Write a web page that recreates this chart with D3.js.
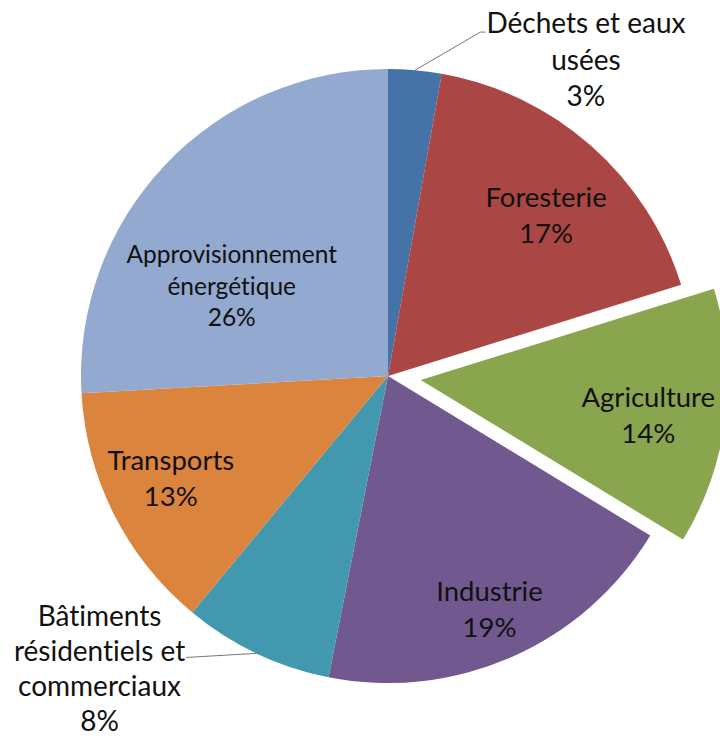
<!DOCTYPE html>
<html>
<head>
<meta charset="utf-8">
<script src="https://cdn.jsdelivr.net/npm/d3@7/dist/d3.min.js"></script>
<style>
  html, body { margin: 0; padding: 0; background: #fff; overflow: hidden; }
  svg { display: block; font-family: Lato, "Open Sans", sans-serif; font-variant-ligatures: none; }
</style>
</head>
<body>
<div id="mainArea"></div>
<script>
// sectors, clockwise from 12 o'clock
var categories = ["Déchets et eaux usées", "Foresterie", "Agriculture", "Industrie",
                  "Bâtiments résidentiels et commerciaux", "Transports", "Approvisionnement énergétique"];
var labelLines = [["Déchets et eaux", "usées"], ["Foresterie"], ["Agriculture"], ["Industrie"],
                  ["Bâtiments", "résidentiels et", "commerciaux"], ["Transports"], ["Approvisionnement", "énergétique"]];
var shares = [2.8, 17.4, 13.5, 19.4, 7.9, 13.1, 25.9];
var colors = ["#4572A7", "#AA4643", "#89A54E", "#71588F", "#4198AF", "#DB843D", "#93A9CF"];
var exploded = ["Agriculture"];

function mainInit()
{
  var width = 720, height = 738;
  var cx = 388, cy = 376, radius = 307, pull = 33;
  var lineH = 36;

  var vis = d3.select("#mainArea").append("svg")
      .attr("width", width)
      .attr("height", height);

  var pie = d3.pie().sort(null).value(function(d) { return d.v; });
  var arc = d3.arc().innerRadius(0).outerRadius(radius);
  var fmt = function(v) { return Math.round(v) + "%"; };

  var rows = categories.map(function(c, i) {
    return { name: c, v: shares[i], color: colors[i], lines: labelLines[i] };
  });
  var arcs = pie(rows);

  function mid(d) { return (d.startAngle + d.endAngle) / 2; }
  function polar(a, r) { return [Math.sin(a) * r, -Math.cos(a) * r]; }
  function shift(d) {
    return exploded.indexOf(d.data.name) >= 0 ? polar(mid(d), pull) : [0, 0];
  }

  var g = vis.append("g").attr("transform", "translate(" + cx + "," + cy + ")");

  g.selectAll("path.slice")
    .data(arcs)
    .enter()
    .append("path")
    .attr("class", "slice")
    .attr("d", arc)
    .attr("transform", function(d) { var s = shift(d); return "translate(" + s[0] + "," + s[1] + ")"; })
    .attr("fill", function(d) { return d.data.color; });

  // inside labels: radius factor and angle tweak (deg), roughly where excel put them
  var inLayout = {
    "Foresterie": [0.736, 3], "Agriculture": [0.75, 1.8], "Industrie": [0.827, 0.2],
    "Transports": [0.782, 1.6], "Approvisionnement énergétique": [0.586, -13.7]
  };
  var small = "Approvisionnement énergétique";

  arcs.forEach(function(d) {
    var L = inLayout[d.data.name];
    if (!L) return;
    var s = shift(d);
    var p = polar(mid(d) + L[1] * Math.PI / 180, radius * L[0]);
    var px = p[0] + s[0], py = p[1] + s[1];
    var lines = d.data.lines.concat([fmt(d.data.v)]);
    var isSmall = d.data.name == small;
    var lh = isSmall ? 31.5 : lineH;
    var t = g.append("text")
      .attr("text-anchor", "middle")
      .attr("font-size", isSmall ? 24.5 : 27.5)
      .attr("fill", "#111");
    lines.forEach(function(l, k) {
      t.append("tspan")
        .attr("x", px)
        .attr("y", py - (lines.length - 1) * lh / 2 + (isSmall ? 8 : 10) + k * lh)
        .text(l);
    });
  });

  // outside labels with leader lines
  var outLayout = {
    "Déchets et eaux usées": { shift: 10, rf: 1.16, line: 0, side: "right", dy: 1, lh: 36.5 },
    "Bâtiments résidentiels et commerciaux": { shift: 10, rf: 1.124, line: 1, side: "left", dy: 4, lh: 35 }
  };

  arcs.forEach(function(d) {
    var L = outLayout[d.data.name];
    if (!L) return;
    var a = mid(d);
    var p0 = polar(a, radius);
    var p1 = polar(a + L.shift * Math.PI / 180, radius * L.rf);
    var right = L.side == "right";
    var p2 = [p1[0] + (right ? 5 : -2), p1[1]];
    g.append("polyline")
      .attr("points", [p0, p1, p2].map(function(p) { return p.join(","); }).join(" "))
      .attr("fill", "none")
      .attr("stroke", "#777")
      .attr("stroke-width", 1);

    var lines = d.data.lines.concat([fmt(d.data.v)]);
    var t = g.append("text")
      .attr("text-anchor", "middle")
      .attr("font-size", 28)
      .attr("fill", "#111");
    var spans = lines.map(function(l, k) {
      return t.append("tspan").attr("y", p2[1] + L.dy + (k - L.line) * L.lh).text(l);
    });
    var w = spans[L.line].node().getComputedTextLength();
    var tx = right ? p2[0] + 1 + w / 2 : p2[0] - 1 - w / 2;
    spans.forEach(function(sp) { sp.attr("x", tx); });
  });
}

window.onload = mainInit;
</script>
</body>
</html>
